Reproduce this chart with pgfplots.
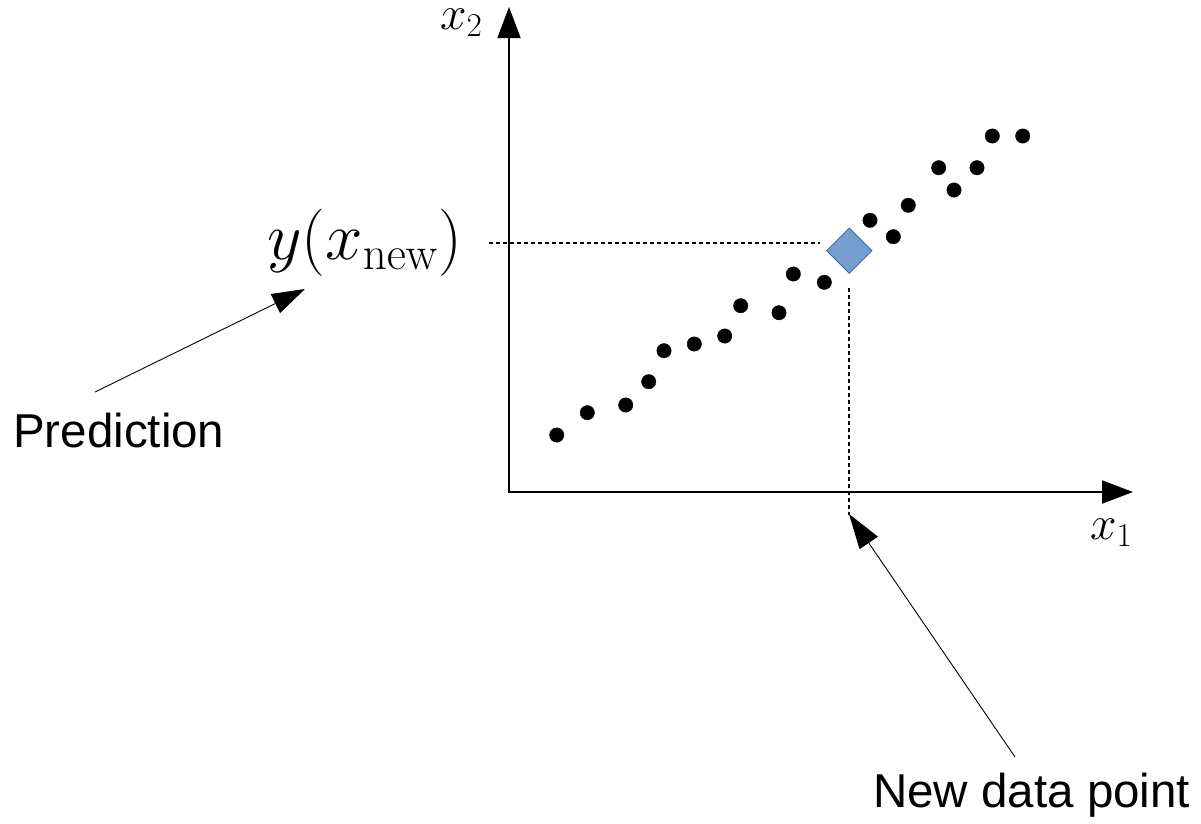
\RequirePackage{fix-cm}
\documentclass[border=0pt]{standalone}
\usepackage[no-math]{fontspec}
\setmainfont{Liberation Sans}
\usepackage{pgfplots}
\pgfplotsset{compat=1.18}
\usetikzlibrary{arrows.meta}
\definecolor{shapefill}{HTML}{729FCF}
\definecolor{shapeline}{HTML}{3465A4}
\pgfplotstableread{
x y
556.7 435.0
587.3 412.7
625.7 405.0
648.7 381.7
664.0 350.7
694.3 344.0
724.7 336.0
740.7 305.7
779.0 312.7
793.3 274.0
824.3 282.3
870.0 220.3
893.3 236.7
908.3 205.3
938.7 167.7
954.0 190.0
977.0 167.7
992.3 136.0
1022.7 136.0
}\datatable
\begin{document}
\begin{tikzpicture}
\begin{axis}[
  x=1pt, y=1pt, y dir=reverse,
  xmin=0, xmax=1201, ymin=0, ymax=823,
  hide axis, clip=false,
]
\path (axis cs:0,0) rectangle (axis cs:1201,823);
% coordinate axes
\addplot[black, line width=1.8pt, -{Triangle[length=31pt,width=23pt]}] coordinates {(509,493) (509,7)};
\addplot[black, line width=1.8pt, -{Triangle[length=31pt,width=23pt]}] coordinates {(508,492) (1133,492)};
% dotted guide lines
\addplot[black, line width=1.6pt, dash pattern=on 4pt off 3pt] coordinates {(489,243) (820,243)};
\addplot[black, line width=1.6pt, dash pattern=on 4pt off 3pt] coordinates {(849,288) (849,515)};
% data points
\addplot[only marks, mark=*, mark size=7.2, black] table[x=x,y=y] {\datatable};
% new data point
\addplot[only marks, mark=square*, mark size=16, mark options={rotate=45, fill=shapefill, draw=shapeline, line width=0.8pt}] coordinates {(849.3,250.7)};
% annotation arrows
\addplot[black, line width=0.9pt, -{Triangle[length=33pt,width=21pt]}] coordinates {(95,392) (305,289)};
\addplot[black, line width=0.9pt, -{Triangle[length=35pt,width=22pt]}] coordinates {(1015,757) (849,514)};
% labels
\node[anchor=base west, inner sep=0pt, font=\fontsize{47.5}{52}\selectfont] at (axis cs:13,447) {Prediction};
\node[anchor=base west, inner sep=0pt, font=\fontsize{47.5}{52}\selectfont] at (axis cs:873,807) {New data point};
\node[anchor=base west, inner sep=0pt, font=\fontsize{60}{70}\selectfont, scale=1.12, transform shape] at (axis cs:267,259.5) {$y(x_{\mathrm{new}})$};
\node[anchor=base west, inner sep=0pt, font=\fontsize{44}{50}\selectfont, scale=1.08, transform shape] at (axis cs:440,29.5) {$x_2$};
\node[anchor=base west, inner sep=0pt, font=\fontsize{44}{50}\selectfont, scale=1.08, transform shape] at (axis cs:1090,539) {$x_1$};
\end{axis}
\end{tikzpicture}
\end{document}
